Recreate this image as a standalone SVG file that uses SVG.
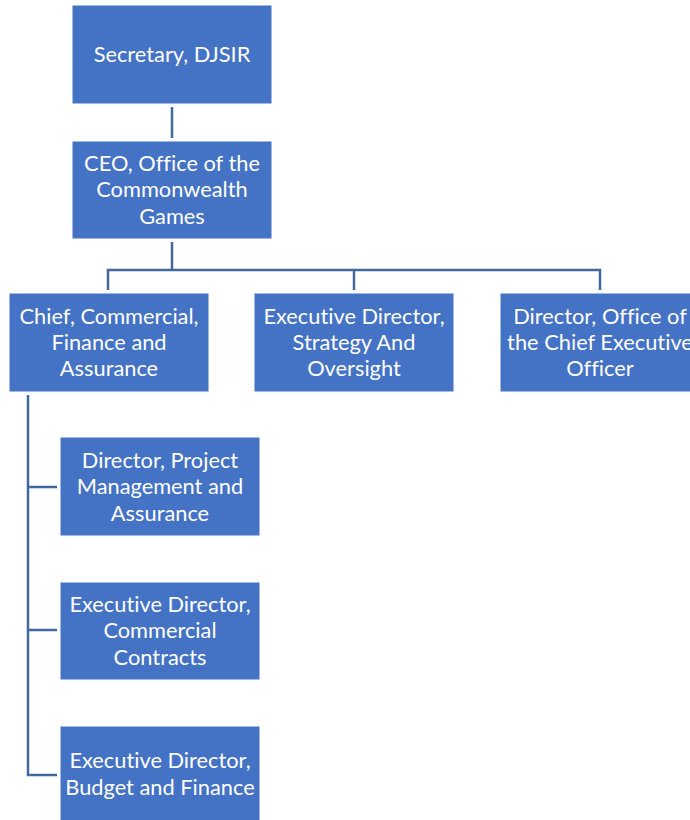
<svg xmlns="http://www.w3.org/2000/svg" width="690" height="820" viewBox="0 0 690 820">
<style>
.box{fill:#4472C4;stroke:#ffffff;stroke-width:1}
.t{font-family:Lato,"Open Sans","Liberation Sans",sans-serif;font-size:21.8px;fill:#ffffff;text-anchor:middle;font-variant-ligatures:none;font-feature-settings:"liga" 0,"dlig" 0}
.c{fill:none;stroke:#41689f;stroke-width:2.5}
</style>
<rect width="690" height="820" fill="#ffffff"/>
<g id="connectors">
<path class="c" d="M172 107V138"/>
<path class="c" d="M172 242V270M108 290V270H600V290M354 270V290"/>
<path class="c" d="M28 395V775H57M28 487H57M28 630H57"/>
</g>
<g id="secretary"><rect class="box" x="72" y="5" width="200" height="99"/><text class="t" x="172" y="62">Secretary, DJSIR</text></g>
<g id="ceo"><rect class="box" x="72" y="141" width="200" height="98"/><text class="t" x="172" y="171">CEO, Office of the</text><text class="t" x="172" y="197">Commonwealth</text><text class="t" x="172" y="224">Games</text></g>
<g id="chief"><rect class="box" x="9" y="293" width="200" height="99"/><text class="t" x="109" y="324">Chief, Commercial,</text><text class="t" x="109" y="350">Finance and</text><text class="t" x="109" y="376">Assurance</text></g>
<g id="strategy"><rect class="box" x="254" y="293" width="200" height="99"/><text class="t" x="354" y="324">Executive Director,</text><text class="t" x="354" y="350">Strategy And</text><text class="t" x="354" y="376">Oversight</text></g>
<g id="office"><rect class="box" x="500" y="293" width="200" height="99"/><text class="t" x="600" y="324">Director, Office of</text><text class="t" x="600" y="350">the Chief Executive</text><text class="t" x="600" y="376">Officer</text></g>
<g id="pma"><rect class="box" x="60" y="437" width="200" height="99"/><text class="t" x="160" y="468">Director, Project</text><text class="t" x="160" y="494">Management and</text><text class="t" x="160" y="521">Assurance</text></g>
<g id="contracts"><rect class="box" x="60" y="582" width="200" height="98"/><text class="t" x="160" y="612">Executive Director,</text><text class="t" x="160" y="638">Commercial</text><text class="t" x="160" y="665">Contracts</text></g>
<g id="budget"><rect class="box" x="60" y="726" width="200" height="99"/><text class="t" x="160" y="768">Executive Director,</text><text class="t" x="160" y="795">Budget and Finance</text></g>
</svg>
